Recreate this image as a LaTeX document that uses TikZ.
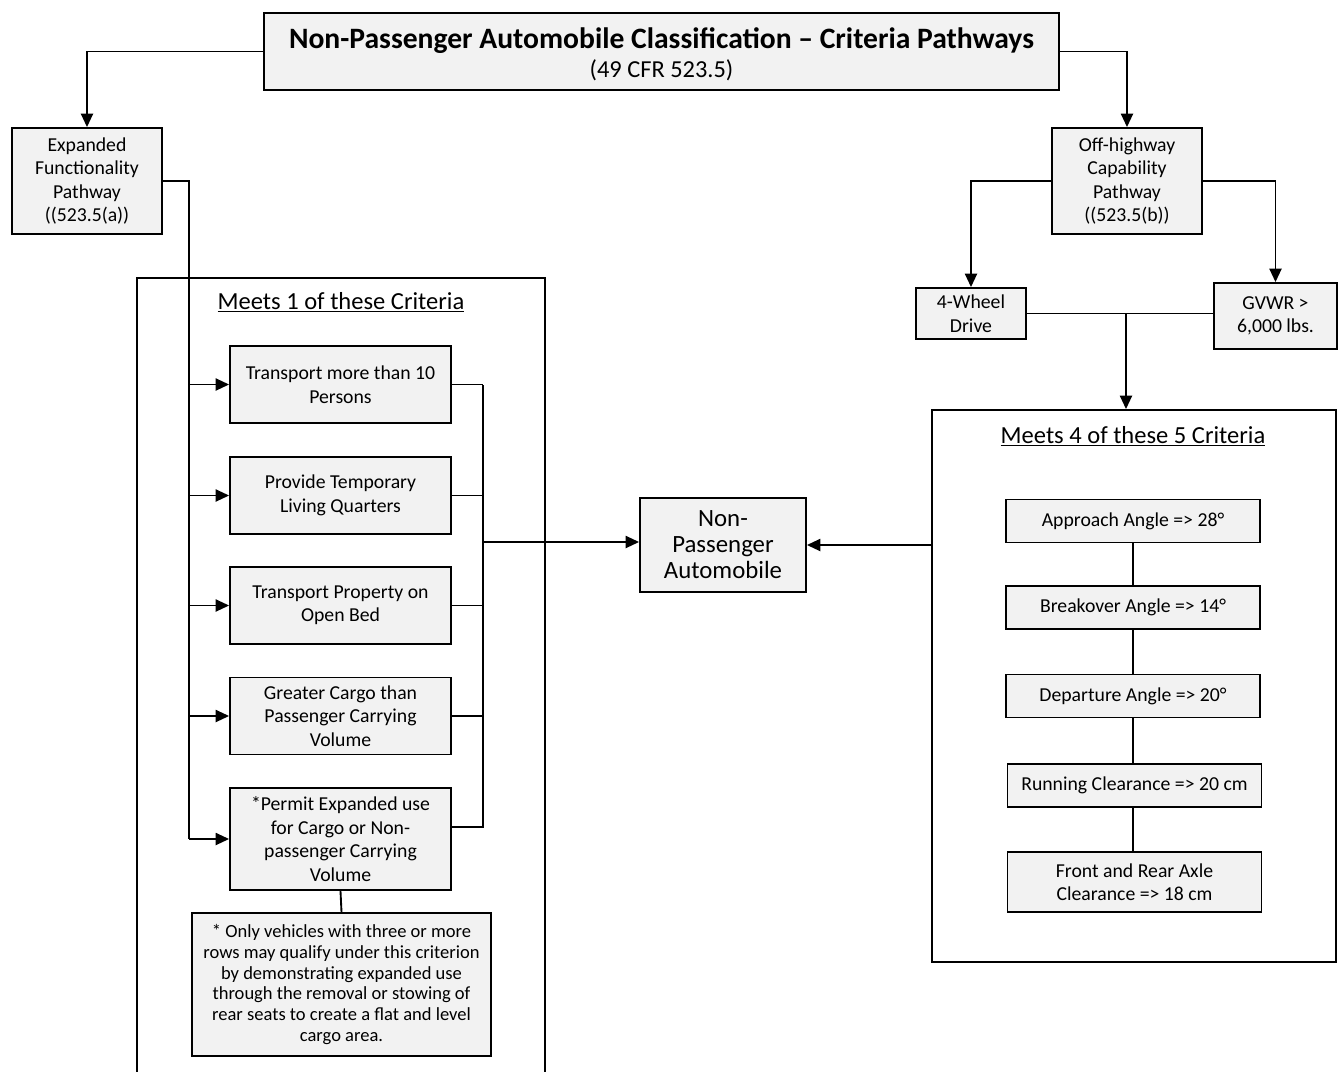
\documentclass[tikz,border=0pt]{standalone}
\usepackage{fontspec}
\setmainfont{Carlito}
\usetikzlibrary{arrows.meta}

\begin{document}
\begin{tikzpicture}[x=0.75pt,y=-0.75pt,
  box/.style={draw=black,fill=gray!10,line width=1.4pt,align=center,inner sep=0pt,
    font=\fontsize{14.8}{17.6}\selectfont},
  group/.style={draw=black,line width=1.4pt,inner sep=0pt},
  head/.style={font=\fontsize{18.4}{20}\selectfont},
  link/.style={line width=1.4pt},
  arr/.style={link,-{Triangle[length=10pt,width=9pt]}}]

\clip (0,0) rectangle (1340,1072);

% Title
\node[box,minimum width=596pt,minimum height=58pt] (title) at (661.5,51.5)
  {\raisebox{-2pt}[\height][\depth]{\fontsize{22.2}{24}\selectfont\bfseries Non-Passenger Automobile Classification – Criteria Pathways}\\[4pt]
   \raisebox{-2pt}[\height][\depth]{\fontsize{18.3}{20}\selectfont (49 CFR 523.5)}};

% Pathways
\node[box,minimum width=112.5pt,minimum height=79.5pt] (exp) at (87,181)
  {Expanded\\Functionality\\Pathway\\((523.5(a))};
\node[box,minimum width=112.5pt,minimum height=79.5pt] (off) at (1127,181)
  {Off-highway\\Capability\\Pathway\\((523.5(b))};
\node[box,minimum width=82.5pt,minimum height=38.25pt] (wd) at (971,313.5) {4-Wheel\\Drive};
\node[box,minimum width=92.25pt,minimum height=49.5pt] (gvwr) at (1275.5,316) {GVWR >\\6,000 lbs.};

% Result
\node[box,minimum width=124.5pt,minimum height=70.5pt,font=\fontsize{18.6}{19.5}\selectfont] (npa) at (723,545)
  {Non-\\Passenger\\Automobile};

% Group frames
\node[group,minimum width=306pt,minimum height=616.5pt] (grpL) at (341,689) {};
\node[group,minimum width=303pt,minimum height=414pt] (grpR) at (1134,686) {};
\node[head] (headL) at (341,302) {\underline{Meets 1 of these Criteria}};
\node[head] (headR) at (1133,436) {\underline{Meets 4 of these 5 Criteria}};

% Left criteria
\node[box,minimum width=165.75pt,minimum height=57.75pt] (c1) at (340.5,384.5) {Transport more than 10\\Persons};
\node[box,minimum width=165.75pt,minimum height=57.75pt] (c2) at (340.5,495.5) {Provide Temporary\\Living Quarters};
\node[box,minimum width=165.75pt,minimum height=57.75pt] (c3) at (340.5,605.5) {Transport Property on\\Open Bed};
\node[box,minimum width=165.75pt,minimum height=57.75pt] (c4) at (340.5,716) {Greater Cargo than\\Passenger Carrying\\Volume};
\node[box,minimum width=165.75pt,minimum height=76.5pt] (c5) at (340.5,839)
  {*Permit Expanded use\\for Cargo or Non-\\passenger Carrying\\Volume};
\node[box,minimum width=224.25pt,minimum height=107.25pt,font=\fontsize{13.9}{15.5}\selectfont] (note) at (341.5,984.5)
  {* Only vehicles with three or more\\rows may qualify under this criterion\\by demonstrating expanded use\\through the removal or stowing of\\rear seats to create a flat and level\\cargo area.};

% Right criteria
\node[box,minimum width=190.5pt,minimum height=32.25pt] (r1) at (1133,521) {Approach Angle => 28°};
\node[box,minimum width=190.5pt,minimum height=32.25pt] (r2) at (1133,607.5) {Breakover Angle => 14°};
\node[box,minimum width=190.5pt,minimum height=32.25pt] (r3) at (1133,696) {Departure Angle => 20°};
\node[box,minimum width=190.5pt,minimum height=32.25pt] (r4) at (1134.5,785.5) {Running Clearance => 20 cm};
\node[box,minimum width=190.5pt,minimum height=45pt] (r5) at (1134.5,882) {Front and Rear Axle\\Clearance => 18 cm};

% Top connectors
\draw[arr] (title.west) -| (exp.north);
\draw[arr] (title.east) -| (off.north);
\draw[arr] (off.west) -| (wd.north);
\draw[arr] (off.east) -| (gvwr.north);
\coordinate (join) at (1126,313.5);
\draw[link] (wd.east) -- (wd.east -| gvwr.west);
\draw[arr] (join) -- (join |- grpR.north);

% Left feed and bus
\coordinate (feed) at (189,181);
\coordinate (bus) at (483,542);
\draw[link] (exp.east) -- (feed) -- (feed |- c5.west);
\foreach \n in {c1,c2,c3,c4,c5}
  \draw[arr] (feed |- \n.west) -- (\n.west);
\foreach \n in {c1,c2,c3,c4}
  \draw[link] (\n.east) -- (\n.east -| bus);
\draw[link] ([yshift=9pt]c5.east) -| (bus) -- (c1.east -| bus);
\draw[arr] (bus) -- (bus -| npa.west);
\draw[link] (c5.south) -- (note.north);

% Right chain
\foreach \a/\b in {r1/r2,r2/r3,r3/r4,r4/r5}
  \draw[link] (\a.south -| r1.south) -- (\b.north -| r1.south);
\draw[arr] (grpR.west |- npa.east) -- (npa.east);

\end{tikzpicture}
\end{document}
